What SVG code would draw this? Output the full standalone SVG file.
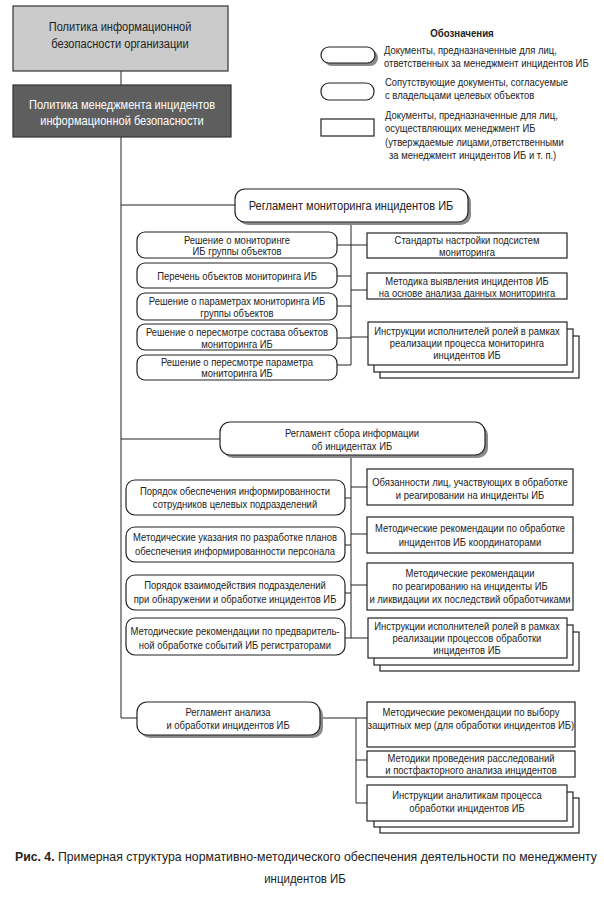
<svg xmlns="http://www.w3.org/2000/svg" width="604" height="897" viewBox="0 0 604 897">
<style>
text{font-family:"Liberation Sans",Arial,sans-serif;font-size:11px;fill:#222;text-anchor:middle}
.l{text-anchor:start}
.b{font-weight:bold}
.w{fill:#fff;font-size:13.5px}
.t{font-size:13.5px}
.box{fill:#fff;stroke:#222;stroke-width:1.2}
.sh{fill:#8a8a8a}
.ln{fill:none;stroke:#222;stroke-width:1}
</style>
<rect width="604" height="897" fill="#fff"/>

<g id="connectors">
<path class="ln" d="M121 71V85 M121 137V718 M121 205H235 M121 439H220 M121 718H137"/>
<path class="ln" d="M351 222V365 M337 245H367 M337 276H351 M337 306H351 M337 338H351 M337 365H351 M351 290H367 M351 337H368"/>
<path class="ln" d="M351 455V638 M345 498H351 M345 545H351 M345 593H351 M345 638H368 M351 487H367 M351 534H367 M351 585H367"/>
<path class="ln" d="M320 718H367 M356 718V803H367 M356 760H367"/>
</g>

<g id="n-policy-org">
<rect x="13" y="6" width="215" height="65" fill="#cbcbcb" stroke="#333" stroke-width="1.2"/>
<text class="t" transform="translate(120 31) scale(.82 1)">Политика информационной</text>
<text class="t" transform="translate(120 48) scale(.82 1)">безопасности организации</text>
</g>
<g id="n-policy-inc">
<rect x="13" y="85" width="218" height="52" fill="#5e5e5e" stroke="#333" stroke-width="1.2"/>
<text class="w" transform="translate(122 109) scale(.82 1)">Политика менеджмента инцидентов</text>
<text class="w" transform="translate(122 125) scale(.82 1)">информационной безопасности</text>
</g>

<g id="legend">
<text class="b" transform="translate(462 37) scale(.88 1)">Обозначения</text>
<rect class="sh" x="324" y="50" width="54" height="16" rx="8"/>
<rect class="box" x="321" y="47" width="54" height="16" rx="8"/>
<text class="l" transform="translate(384 54) scale(.86 1)">Документы, предназначенные для лиц,</text>
<text class="l" transform="translate(384 67) scale(.86 1)">ответственных за менеджмент инцидентов ИБ</text>
<rect class="box" x="321" y="83" width="53" height="17" rx="8"/>
<text class="l" transform="translate(385 86) scale(.86 1)">Сопутствующие документы, согласуемые</text>
<text class="l" transform="translate(385 99) scale(.86 1)">с владельцами целевых объектов</text>
<rect class="box" x="321" y="119" width="53" height="17"/>
<text class="l" transform="translate(385 119) scale(.86 1)">Документы, предназначенные для лиц,</text>
<text class="l" transform="translate(385 132) scale(.86 1)">осуществляющих менеджмент ИБ</text>
<text class="l" transform="translate(385 146) scale(.86 1)">(утверждаемые лицами,ответственными</text>
<text class="l" transform="translate(389 159) scale(.86 1)">за менеджмент инцидентов ИБ и т. п.)</text>
</g>

<g id="n-reg-mon">
<rect class="sh" x="238" y="192" width="233" height="33" rx="10"/>
<rect class="box" x="235" y="189" width="233" height="33" rx="10"/>
<text class="t" transform="translate(351 210) scale(.82 1)">Регламент мониторинга инцидентов ИБ</text>
</g>
<g id="n-m1"><rect class="box" x="137" y="232" width="200" height="26" rx="8"/>
<text transform="translate(237 243.5) scale(.86 1)">Решение о мониторинге</text><text transform="translate(237 255) scale(.86 1)">ИБ группы объектов</text></g>
<g id="n-m2"><rect class="box" x="137" y="263" width="200" height="25" rx="8"/>
<text transform="translate(237 280) scale(.86 1)">Перечень объектов мониторинга ИБ</text></g>
<g id="n-m3"><rect class="box" x="137" y="293" width="200" height="27" rx="8"/>
<text transform="translate(237 304.5) scale(.86 1)">Решение о параметрах мониторинга ИБ</text><text transform="translate(237 316.5) scale(.86 1)">группы объектов</text></g>
<g id="n-m4"><rect class="box" x="137" y="324" width="200" height="26" rx="8"/>
<text transform="translate(237 335.5) scale(.86 1)">Решение о пересмотре состава объектов</text><text transform="translate(237 347.5) scale(.86 1)">мониторинга ИБ</text></g>
<g id="n-m5"><rect class="box" x="137" y="355" width="200" height="25" rx="8"/>
<text transform="translate(237 365.5) scale(.86 1)">Решение о пересмотре параметра</text><text transform="translate(237 377) scale(.86 1)">мониторинга ИБ</text></g>
<g id="n-m6"><rect class="box" x="367" y="233" width="200" height="25"/>
<text transform="translate(467 244) scale(.86 1)">Стандарты настройки подсистем</text><text transform="translate(467 255.5) scale(.86 1)">мониторинга</text></g>
<g id="n-m7"><rect class="box" x="367" y="273" width="200" height="26"/>
<text transform="translate(467 285) scale(.86 1)">Методика выявления инцидентов ИБ</text><text transform="translate(467 296.5) scale(.86 1)">на основе анализа данных мониторинга</text></g>
<g id="n-m8">
<rect class="box" x="380" y="336" width="199" height="42"/>
<rect class="box" x="374" y="329" width="199" height="43"/>
<rect class="box" x="368" y="322" width="199" height="43"/>
<text transform="translate(467 334.5) scale(.86 1)">Инструкции исполнителей ролей в рамках</text>
<text transform="translate(467 346.5) scale(.86 1)">реализации процесса мониторинга</text>
<text transform="translate(467 358.5) scale(.86 1)">инцидентов ИБ</text>
</g>

<g id="n-reg-col">
<rect class="sh" x="223" y="425" width="265" height="33" rx="10"/>
<rect class="box" x="220" y="422" width="265" height="33" rx="10"/>
<text transform="translate(352 437) scale(.86 1)">Регламент сбора информации</text>
<text transform="translate(352 450) scale(.86 1)">об инцидентах ИБ</text>
</g>
<g id="n-c1"><rect class="box" x="126" y="480" width="219" height="35" rx="9"/>
<text transform="translate(235 495) scale(.86 1)">Порядок обеспечения информированности</text><text transform="translate(235 508) scale(.86 1)">сотрудников целевых подразделений</text></g>
<g id="n-c2"><rect class="box" x="126" y="527" width="219" height="35" rx="9"/>
<text transform="translate(235 541) scale(.86 1)">Методические указания по разработке планов</text><text transform="translate(235 555) scale(.86 1)">обеспечения информированности персонала</text></g>
<g id="n-c3"><rect class="box" x="126" y="575" width="219" height="35" rx="9"/>
<text transform="translate(235 589) scale(.86 1)">Порядок взаимодействия подразделений</text><text transform="translate(235 603) scale(.86 1)">при обнаружении и обработке инцидентов ИБ</text></g>
<g id="n-c4"><rect class="box" x="126" y="618" width="219" height="37" rx="9"/>
<text transform="translate(235 635) scale(.86 1)">Методические рекомендации по предваритель-</text><text transform="translate(235 649) scale(.86 1)">ной обработке событий ИБ регистраторами</text></g>
<g id="n-c5"><rect class="box" x="367" y="469" width="206" height="36"/>
<text transform="translate(470 486) scale(.86 1)">Обязанности лиц, участвующих в обработке</text><text transform="translate(470 499) scale(.86 1)">и реагировании на инциденты ИБ</text></g>
<g id="n-c6"><rect class="box" x="367" y="517" width="206" height="36"/>
<text transform="translate(470 532) scale(.86 1)">Методические рекомендации по обработке</text><text transform="translate(470 546) scale(.86 1)">инцидентов ИБ координаторами</text></g>
<g id="n-c7"><rect class="box" x="367" y="563" width="206" height="47"/>
<text transform="translate(470 577) scale(.86 1)">Методические рекомендации</text><text transform="translate(470 590) scale(.86 1)">по реагированию на инциденты ИБ</text><text transform="translate(470 603) scale(.86 1)">и ликвидации их последствий обработчиками</text></g>
<g id="n-c8">
<rect class="box" x="380" y="632" width="199" height="39"/>
<rect class="box" x="374" y="625" width="199" height="40"/>
<rect class="box" x="368" y="618" width="199" height="40"/>
<text transform="translate(467 630) scale(.86 1)">Инструкции исполнителей ролей в рамках</text>
<text transform="translate(467 642) scale(.86 1)">реализации процессов обработки</text>
<text transform="translate(467 654) scale(.86 1)">инцидентов ИБ</text>
</g>

<g id="n-reg-an">
<rect class="sh" x="140" y="705" width="183" height="33" rx="10"/>
<rect class="box" x="137" y="702" width="183" height="33" rx="10"/>
<text transform="translate(228 716) scale(.86 1)">Регламент анализа</text>
<text transform="translate(228 729) scale(.86 1)">и обработки инцидентов ИБ</text>
</g>
<g id="n-a1"><rect class="box" x="367" y="702" width="208" height="45"/>
<text transform="translate(471 716) scale(.86 1)">Методические рекомендации по выбору</text><text transform="translate(471 729) scale(.86 1)">защитных мер (для обработки инцидентов ИБ)</text></g>
<g id="n-a2"><rect class="box" x="367" y="751" width="208" height="26"/>
<text transform="translate(471 762) scale(.86 1)">Методики проведения расследований</text><text transform="translate(471 774) scale(.86 1)">и постфакторного анализа инцидентов</text></g>
<g id="n-a3">
<rect class="box" x="380" y="798" width="199" height="35"/>
<rect class="box" x="374" y="792" width="199" height="35"/>
<rect class="box" x="367" y="785" width="200" height="36"/>
<text transform="translate(467 799) scale(.86 1)">Инструкции аналитикам процесса</text>
<text transform="translate(467 812) scale(.86 1)">обработки инцидентов ИБ</text>
</g>

<g id="caption">
<text class="l t" x="15" y="861" textLength="582" lengthAdjust="spacingAndGlyphs"><tspan class="b">Рис. 4.</tspan> Примерная структура нормативно-методического обеспечения деятельности по менеджменту</text>
<text class="t" transform="translate(305 883) scale(.85 1)">инцидентов ИБ</text>
</g>
</svg>
